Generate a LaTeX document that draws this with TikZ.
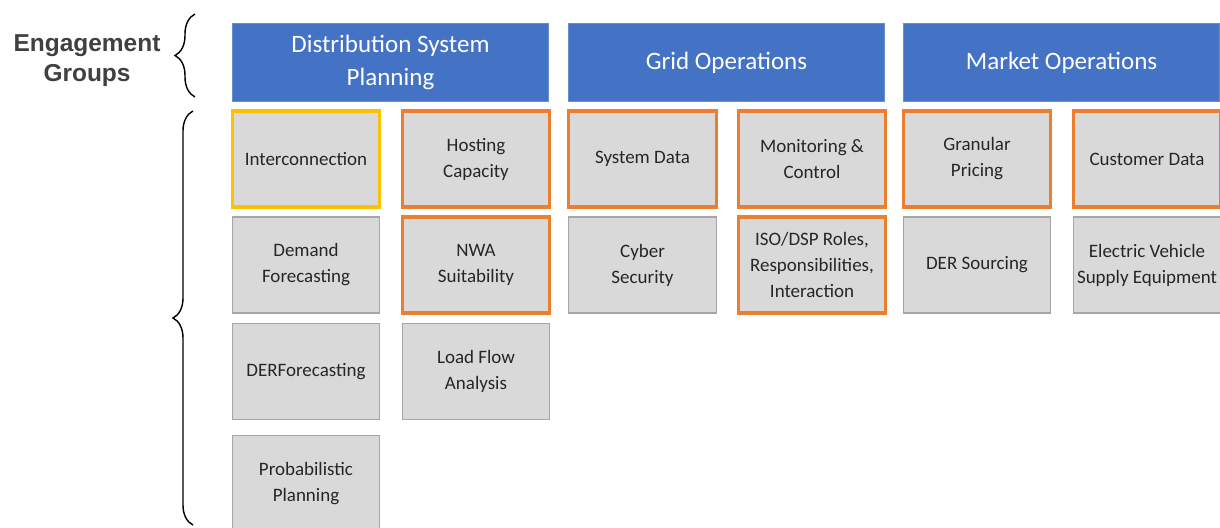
\documentclass[tikz,border=0pt]{standalone}
\usepackage{fontspec}
\setmainfont{Carlito}
\newfontfamily\labelfont{Liberation Sans}
\usetikzlibrary{decorations.pathreplacing}
\definecolor{hdrblue}{HTML}{4472C4}
\definecolor{boxgray}{HTML}{D9D9D9}
\definecolor{edgegray}{HTML}{A6A6A6}
\definecolor{hiorange}{HTML}{ED7D31}
\definecolor{hiyellow}{HTML}{FFC000}
\definecolor{txtgray}{HTML}{404040}
\tikzstyle{header} = [fill=hdrblue, draw=hdrblue!80!white, minimum width=7.9cm, minimum height=1.95cm, inner sep=0pt, text=white, align=center, font=\fontsize{17.8}{23.5}\selectfont]
\tikzstyle{topic} = [fill=boxgray, draw=edgegray, line width=0.8pt, minimum width=3.68cm, minimum height=2.4cm, inner sep=0pt, align=center, text=black!85, font=\fontsize{13.5}{18.5}\selectfont]
\tikzstyle{orangetopic} = [topic, draw=hiorange, line width=2.2pt]
\tikzstyle{yellowtopic} = [topic, draw=hiyellow, line width=2.2pt]
\tikzstyle{grpbrace} = [line width=1pt, decorate, decoration={brace, amplitude=0.5cm}]

\begin{document}
\begin{tikzpicture}[x=0.025cm, y=-0.025cm]
        \clip (0,0) rectangle (1220,527);
        \fill[white] (0,0) rectangle (1220,527);

        % Engagement groups
        \node[font=\labelfont\bfseries\fontsize{17.4}{21.3}\selectfont, text=txtgray, align=center] (egroups) at (87,61) {Engagement\\Groups};

        \node[header] (dsp) at (390.5,62.5) {Distribution System\\Planning};
        \node[header] (gridops) at (726.5,62.5) {Grid Operations};
        \node[header] (mktops) at (1061.5,62.5) {Market Operations};

        % Distribution System Planning
        \node[yellowtopic] (intercon) at (306,159) {Interconnection};
        \node[topic] (demand) at (306,265) {Demand\\Forecasting};
        \node[topic] (derfc) at (306,371.5) {DERForecasting};
        \node[topic] (probplan) at (306,483.5) {Probabilistic\\Planning};
        \node[orangetopic] (hosting) at (476,159) {Hosting\\Capacity};
        \node[orangetopic] (nwa) at (476,265) {NWA\\Suitability};
        \node[topic] (loadflow) at (476,371.5) {Load Flow\\Analysis};

        % Grid Operations
        \node[orangetopic] (sysdata) at (642.5,159) {System Data};
        \node[topic] (cyber) at (642.5,265) {Cyber\\Security};
        \node[orangetopic] (monitor) at (812,159) {Monitoring \&\\Control};
        \node[orangetopic] (isodsp) at (812,265) {ISO/DSP Roles,\\Responsibilities,\\Interaction};

        % Market Operations
        \node[orangetopic] (pricing) at (977,159) {Granular\\Pricing};
        \node[topic] (dersrc) at (977,265) {DER Sourcing};
        \node[orangetopic] (custdata) at (1147,159) {Customer Data};
        \node[topic] (evse) at (1147,265) {Electric Vehicle\\Supply Equipment};

        % Braces
        \coordinate (topbrace-s) at (195,97);
        \coordinate (topbrace-e) at (195,14);
        \coordinate (lowbrace-s) at (193,525);
        \coordinate (lowbrace-e) at (193,111);
        \draw[grpbrace] (topbrace-s) -- (topbrace-e);
        \draw[grpbrace] (lowbrace-s) -- (lowbrace-e);

    \end{tikzpicture}
\end{document}
